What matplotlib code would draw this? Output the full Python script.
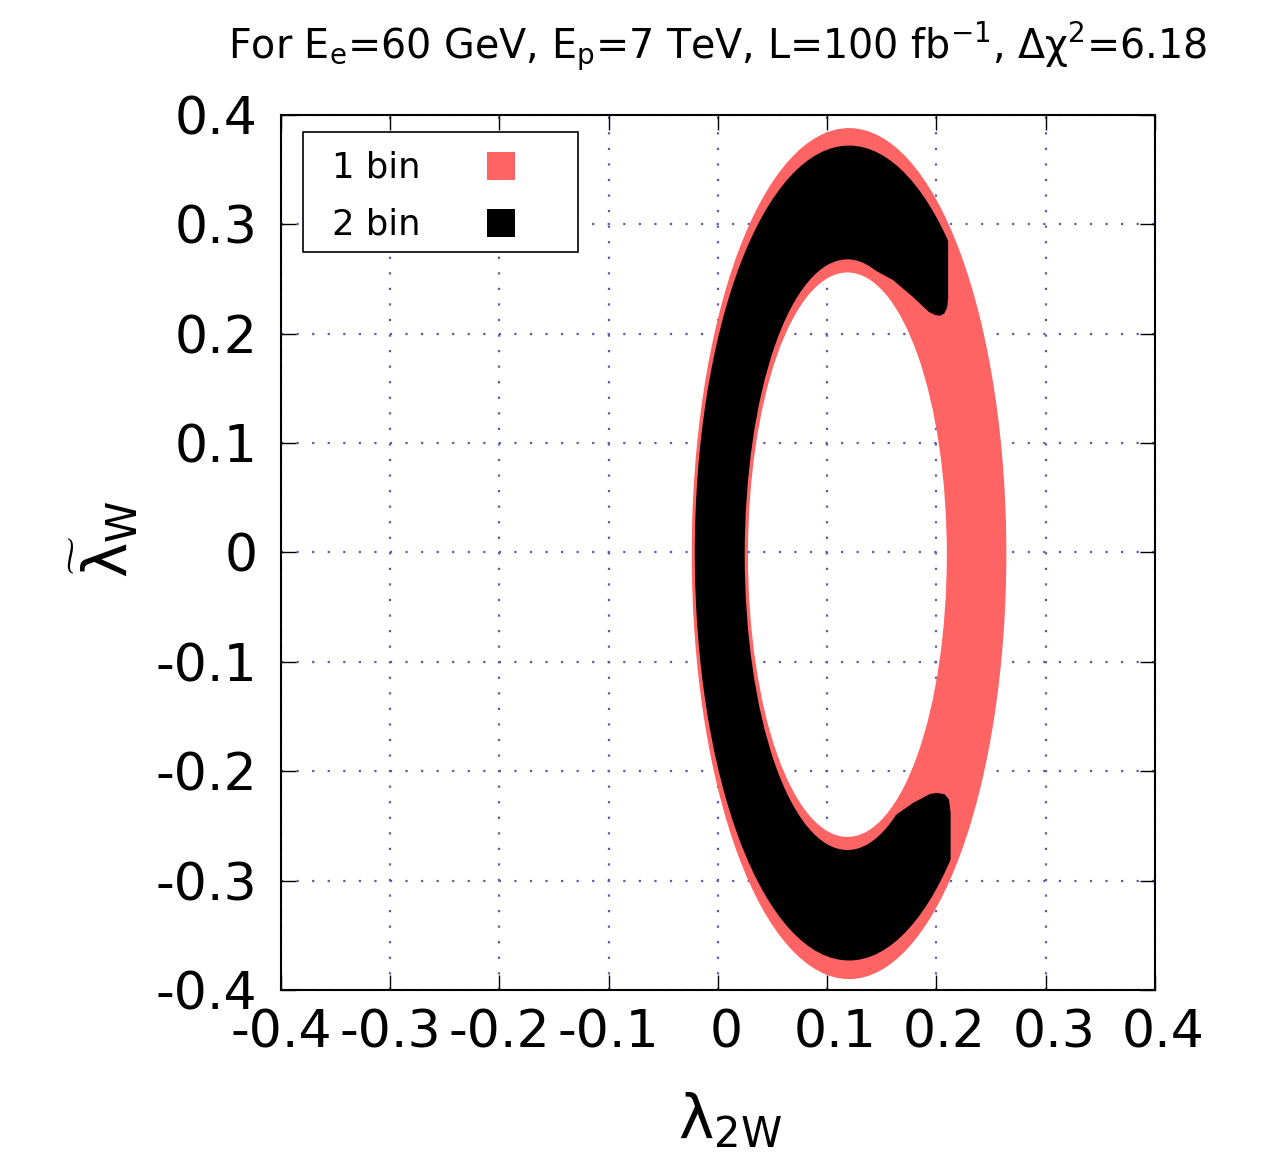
import numpy as np
import matplotlib
matplotlib.use("Agg")
import matplotlib.pyplot as plt
from matplotlib.path import Path
from matplotlib.patches import PathPatch, Polygon, Rectangle
from matplotlib.transforms import ScaledTranslation

plt.rcParams["font.family"] = ["DejaVu Sans"]
plt.rcParams["mathtext.fontset"] = "dejavusans"
plt.rcParams["axes.unicode_minus"] = False

# -----------------------
# Data
# -----------------------
ticks = [-0.4, -0.3, -0.2, -0.1, 0.0, 0.1, 0.2, 0.3, 0.4]
tick_labels = ["-0.4", "-0.3", "-0.2", "-0.1", "0", "0.1", "0.2", "0.3", "0.4"]

# regions as rings between two ellipses (center x, center y, semi-axis x, semi-axis y)
bin1_outer = (0.120, -0.001, 0.144, 0.389)
bin1_inner = (0.1185, -0.002, 0.091, 0.258)
bin2_outer = (0.120, -0.0005, 0.1412, 0.3725)
bin2_inner = (0.1185, -0.002, 0.094, 0.270)

# 2 bin region is open on the right: outline of the part that is kept
# (traced hook edges, the rest lies well outside the ring)
keep_x = [-0.5, 0.5, 0.5, 0.2107, 0.2107, 0.2098, 0.2072, 0.2035, 0.1990, 0.1930,
          0.1785, 0.1602, 0.1419, 0.1330, 0.1185,
          0.1185, 0.1330, 0.1419, 0.1602, 0.1785, 0.1941, 0.2000, 0.2075, 0.2115,
          0.2130, 0.2130, 0.5, 0.5, -0.5]
keep_y = [0.5, 0.5, 0.30, 0.30, 0.2320, 0.2240, 0.2185, 0.2165, 0.2170, 0.2200,
          0.2336, 0.2491, 0.2590, 0.2630, 0.2600,
          -0.2600, -0.2670, -0.2610, -0.2418, -0.2290, -0.2208, -0.2198, -0.2210, -0.2260,
          -0.2380, -0.30, -0.30, -0.5, -0.5]

labels = ["1 bin", "2 bin"]
colors = ["#ff6464", "#000000"]

title = (r"For E$_{\mathrm{e}}$=60 GeV, E$_{\mathrm{p}}$=7 TeV, "
         r"L=100 fb$^{\mathrm{-1}}$, Δχ$^{\mathrm{2}}$=6.18")

# -----------------------
# Figure
# -----------------------
fig = plt.figure(figsize=(12.65, 11.52), dpi=100)
ax = fig.add_axes([0.2221, 0.1406, 0.6909, 0.7596])


def ellipse_path(cx, cy, a, b):
    circ = Path.unit_circle()
    return Path(circ.vertices * [a, b] + [cx, cy], circ.codes)


def ring_path(outer, inner):
    # inner ellipse mirrored in x so it winds the other way -> hole
    cx, cy, a, b = inner
    return Path.make_compound_path(ellipse_path(*outer), ellipse_path(cx, cy, -a, b))


ax.add_patch(PathPatch(ring_path(bin1_outer, bin1_inner),
                       facecolor=colors[0], edgecolor="none", zorder=1))

black = PathPatch(ring_path(bin2_outer, bin2_inner),
                  facecolor=colors[1], edgecolor="none", zorder=2)
ax.add_patch(black)
keep = Polygon(np.column_stack([keep_x, keep_y]), closed=True, transform=ax.transData)
black.set_clip_path(keep)

ax.set_xlim(-0.4, 0.4)
ax.set_ylim(-0.4, 0.4)
ax.set_xticks(ticks)
ax.set_yticks(ticks)
ax.set_xticklabels(tick_labels)
ax.set_yticklabels(tick_labels)
ax.tick_params(direction="in", length=11, width=1.0, labelsize=37.5,
               top=True, right=True)
ax.tick_params(axis="x", pad=13)
ax.tick_params(axis="y", pad=17)
for s in ax.spines.values():
    s.set_linewidth(1.5)

# gnuplot puts the non-negative x labels a little to the right
shift = ScaledTranslation(8 / 100, 0, fig.dpi_scale_trans)
for lab in ax.get_xticklabels():
    if not lab.get_text().startswith("-"):
        lab.set_transform(lab.get_transform() + shift)

ax.set_axisbelow(True)
ax.grid(True, color="#5a5ab4", linestyle=(0, (1, 6)), linewidth=1.6)

ax.set_xlabel(r"$\mathrm{\lambda}_{\mathrm{2W}}$", fontsize=43)
ax.set_ylabel(r"$\widetilde{\mathrm{\lambda}}_{\mathrm{W}}$", fontsize=43)
ax.xaxis.set_label_coords(0.514, -0.116)
ax.yaxis.set_label_coords(-0.160, 0.515)

fig.text(718 / 1265, 1 - 58 / 1152, title, fontsize=28.5, ha="center", va="baseline")

# -----------------------
# Legend box
# -----------------------
ax.add_patch(Rectangle((0.0252, 0.8434), 0.3146, 0.1372, transform=ax.transAxes,
                       facecolor="white", edgecolor="black", linewidth=1.2, zorder=5))
for i, (lab, col) in enumerate(zip(labels, colors)):
    yc = 0.9400 - i * 0.0652
    ax.text(0.0584, yc, lab, transform=ax.transAxes, fontsize=25.5,
            ha="left", va="center", zorder=6)
    ax.add_patch(Rectangle((0.2357, yc - 0.016 + 0.002), 0.032, 0.032, transform=ax.transAxes,
                           facecolor=col, edgecolor="none", zorder=6))

plt.savefig("out.png", dpi=100)
plt.close()
